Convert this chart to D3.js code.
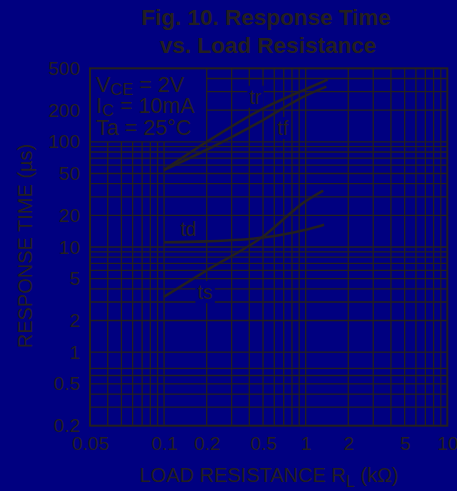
<!DOCTYPE html>
<html>
<head>
<meta charset="utf-8">
<script src="https://cdn.jsdelivr.net/npm/d3@7"></script>
<style>
    body { margin: 0; background: #000080; }
    svg { display: block; font-family: "Liberation Sans", Arial, sans-serif; }
</style>
</head>
<body>
<script>
(function(){

//chart values
var xTickValues = [0.03, 0.1, 0.2, 0.5, 1, 2, 5, 10]; //tick positions
var xTickLabels = ["0.05", "0.1", "0.2", "0.5", "1", "2", "5", "10"]; //labels printed on the x axis
var yTickValues = [0.2, 0.5, 1, 2, 5, 10, 20, 50, 100, 200, 500];
var yTickLabels = ["0.2", "0.5", "1", "2", "5", "10", "20", "50", "100", "200", "500"];

//grid lines
var xGrid = [0.04, 0.05, 0.06, 0.07, 0.08, 0.09, 0.1, 0.2, 0.3, 0.4, 0.5, 0.6, 0.7, 0.8, 0.9,
             1, 2, 3, 4, 5, 6, 7, 8, 9];
var yGrid = [0.3, 0.4, 0.5, 0.6, 0.7, 1, 2, 3, 4, 5, 6, 7, 8, 9, 10,
             20, 30, 40, 50, 60, 70, 80, 90, 100, 200, 300, 400];

//curves: load resistance (kOhm) and response time (us)
var seriesNames = ["tr", "tf", "td", "ts"];
var loadR = {
    tr: [0.1, 0.2, 0.5, 1, 1.43],
    tf: [0.1, 0.2, 0.5, 1, 1.4],
    td: [0.1, 0.2, 0.5, 1, 1.35],
    ts: [0.1, 0.2, 0.5, 1, 1.33]
};
var respTime = {
    tr: [54, 100, 207, 316, 390],
    tf: [54, 84, 161, 275, 335],
    td: [11.1, 11.3, 12.3, 14.6, 16.3],
    ts: [3.36, 6.0, 12.6, 27.3, 34.4]
};
//label anchor (data coordinates, baseline left)
var labelPos = {
    tr: [0.4, 230],
    tf: [0.63, 116],
    td: [0.13, 12.8],
    ts: [0.172, 3.2]
};

var ink = "#231f20";

window.onload = drawChart();

function drawChart(){
    var width = 457,
        height = 491;

    var svg = d3.select("body")
        .append("svg")
        .attr("width", width)
        .attr("height", height);

    svg.append("rect")
        .attr("width", width)
        .attr("height", height)
        .attr("fill", "#000080");

    //plot frame
    var x = d3.scaleLog()
        .domain([0.03, 10])
        .range([90, 447.3]);

    var y = d3.scaleLog()
        .domain([0.2, 500])
        .range([425.7, 68.3]);

    //title
    var title = svg.append("text")
        .attr("text-anchor", "middle")
        .attr("font-weight", "bold")
        .attr("font-size", 22.5)
        .attr("fill", ink);
    title.append("tspan").attr("x", 266).attr("y", 24.5).text("Fig. 10. Response Time");
    title.append("tspan").attr("x", 268).attr("y", 52.5).text("vs. Load Resistance");

    //grid, leaving out the condition box in the top left corner
    var grid = svg.append("g")
        .attr("stroke", ink)
        .attr("stroke-width", 1.3);

    grid.selectAll(".vgrid")
        .data(xGrid)
        .enter()
        .append("line")
        .attr("class", "vgrid")
        .attr("x1", function(d){ return x(d); })
        .attr("x2", function(d){ return x(d); })
        .attr("y1", y(0.2))
        .attr("y2", function(d){ return d < 0.2 ? y(100) : y(500); });

    grid.selectAll(".hgrid")
        .data(yGrid)
        .enter()
        .append("line")
        .attr("class", "hgrid")
        .attr("y1", function(d){ return y(d); })
        .attr("y2", function(d){ return y(d); })
        .attr("x1", function(d){ return d > 100 ? x(0.2) : x(0.03); })
        .attr("x2", x(10));

    //frame
    svg.append("rect")
        .attr("x", x(0.03))
        .attr("y", y(500))
        .attr("width", x(10) - x(0.03))
        .attr("height", y(0.2) - y(500))
        .attr("fill", "none")
        .attr("stroke", ink)
        .attr("stroke-width", 2);

    //axes
    var xAxis = d3.axisBottom(x)
        .tickValues(xTickValues)
        .tickSize(0)
        .tickPadding(11)
        .tickFormat(function(d, i){ return xTickLabels[i]; });

    svg.append("g")
        .attr("class", "xaxis")
        .attr("transform", "translate(0," + y(0.2) + ")")
        .call(xAxis)
        .call(styleAxis);

    var yAxis = d3.axisLeft(y)
        .tickValues(yTickValues)
        .tickSize(0)
        .tickPadding(10)
        .tickFormat(function(d, i){ return yTickLabels[i]; });

    svg.append("g")
        .attr("class", "yaxis")
        .attr("transform", "translate(" + x(0.03) + ",0)")
        .call(yAxis)
        .call(styleAxis);

    //axis titles
    var xTitle = svg.append("text")
        .attr("x", 269)
        .attr("y", 481.5)
        .attr("text-anchor", "middle")
        .attr("font-size", 20)
        .attr("fill", ink);
    xTitle.append("tspan").text("LOAD RESISTANCE R");
    xTitle.append("tspan").attr("font-size", 16).attr("dy", 5).text("L");
    xTitle.append("tspan").attr("dy", -5).text(" (k\u03A9)");

    svg.append("text")
        .attr("transform", "translate(32,246) rotate(-90)")
        .attr("text-anchor", "middle")
        .attr("font-size", 20)
        .attr("fill", ink)
        .text("RESPONSE TIME (\u00B5s)");

    //test conditions
    var cond = svg.append("g")
        .attr("font-size", 21.5)
        .attr("fill", ink);
    var l1 = cond.append("text").attr("x", 96).attr("y", 91.5);
    l1.append("tspan").text("V");
    l1.append("tspan").attr("font-size", 16.5).attr("dy", 3).text("CE");
    l1.append("tspan").attr("dy", -3).text(" = 2V");
    var l2 = cond.append("text").attr("x", 96).attr("y", 113.3);
    l2.append("tspan").text("I");
    l2.append("tspan").attr("font-size", 16.5).attr("dy", 3).text("C");
    l2.append("tspan").attr("dy", -3).text(" = 10mA");
    cond.append("text").attr("x", 96).attr("y", 135).text("Ta = 25\u00B0C");

    //curve labels with a background patch that hides the grid
    var labels = svg.selectAll(".clabel")
        .data(seriesNames)
        .enter()
        .append("g")
        .attr("class", "clabel")
        .attr("transform", function(name){
            return "translate(" + x(labelPos[name][0]) + "," + y(labelPos[name][1]) + ")";
        });

    labels.append("rect")
        .attr("fill", "#000080");

    labels.append("text")
        .attr("font-size", 19.5)
        .attr("fill", ink)
        .text(function(name){ return name; });

    labels.each(function(){
        var g = d3.select(this),
            box = g.select("text").node().getBBox();
        g.select("rect")
            .attr("x", box.x - 2)
            .attr("y", box.y)
            .attr("width", box.width + 4)
            .attr("height", box.height);
    });

    //curves
    var line = d3.line()
        .x(function(d){ return x(d[0]); })
        .y(function(d){ return y(d[1]); })
        .curve(d3.curveMonotoneX);

    svg.selectAll(".curve")
        .data(seriesNames)
        .enter()
        .append("path")
        .attr("class", "curve")
        .attr("d", function(name){
            return line(d3.zip(loadR[name], respTime[name]));
        })
        .attr("fill", "none")
        .attr("stroke", ink)
        .attr("stroke-width", 2.6);
};

function styleAxis(g){
    g.select(".domain").remove();
    g.selectAll("text")
        .attr("font-size", 19)
        .attr("fill", ink)
        .attr("font-family", "Liberation Sans, Arial, sans-serif");
};

})();
</script>
</body>
</html>
